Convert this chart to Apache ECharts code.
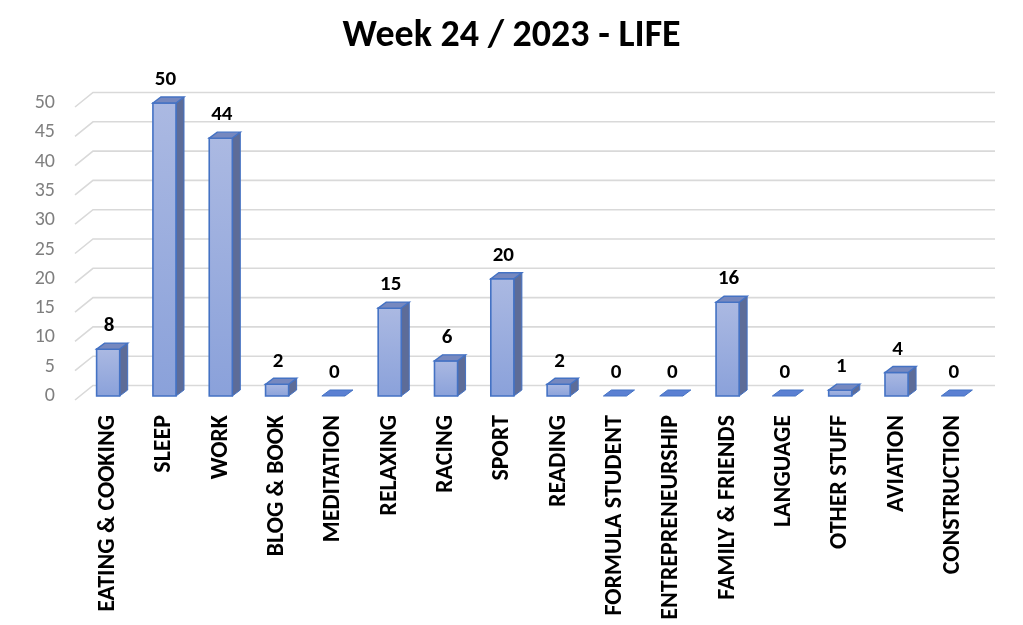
<!DOCTYPE html>
<html>
<head>
<meta charset="utf-8">
<script src="https://cdn.jsdelivr.net/npm/echarts@6/dist/echarts.min.js"></script>
<style>html,body{margin:0;padding:0;background:#fff}#c{width:1023px;height:625px}</style>
</head>
<body>
<div id="c"></div>
<script>
const categories = ['EATING & COOKING','SLEEP','WORK','BLOG & BOOK','MEDITATION','RELAXING','RACING','SPORT','READING','FORMULA STUDENT','ENTREPRENEURSHIP','FAMILY & FRIENDS','LANGUAGE','OTHER STUFF','AVIATION','CONSTRUCTION'];
const hours = [8,50,44,2,0,15,6,20,2,0,0,16,0,1,4,0];
const yTicks = [0,5,10,15,20,25,30,35,40,45,50];
const titleText = 'Week 24 / 2023 - LIFE';

const FONT = 'Carlito, Lato, sans-serif';
const DX = 8, DY = -6;

const chart = echarts.init(document.getElementById('c'), null, {renderer:'canvas'});

function gridItem(params, api){
  const v = api.value(1);
  const cs = params.coordSys;
  const y = api.coord([0, v])[1];
  return {
    type:'polyline',
    shape:{points:[[cs.x-5, y+4],[cs.x+13, y-10.5],[cs.x+cs.width+14, y-10.5]]},
    style:{stroke:'#d9d9d9', lineWidth:1.6, fill:null},
    silent:true
  };
}

function barItem(params, api){
  const i = api.value(0), v = api.value(1);
  const p0 = api.coord([i, 0]);
  const p1 = api.coord([i, v]);
  const bw = api.size([1,0])[0];
  const w = bw*0.41;
  const xl = p0[0]-w/2, xr = p0[0]+w/2;
  const yb = p0[1], yt = p1[1];
  const children = [];
  const border = '#4472c4';
  if (v > 0) {
    children.push({type:'polygon', shape:{points:[[xr,yt],[xr+DX,yt+DY],[xr+DX,yb+DY],[xr,yb]]},
      style:{fill:'#5d6c98', stroke:border, lineWidth:1}});
    children.push({type:'rect', shape:{x:xl,y:yt,width:w,height:yb-yt},
      style:{fill:new echarts.graphic.LinearGradient(0,0,0,1,[{offset:0,color:'#abb9e2'},{offset:1,color:'#8aa1da'}]), stroke:border, lineWidth:1.6}});
    children.push({type:'polygon', shape:{points:[[xl,yt],[xl+DX,yt+DY],[xr+DX,yt+DY],[xr,yt]]},
      style:{fill:'#7688bf', stroke:border, lineWidth:1.4}});
  } else {
    children.push({type:'polygon', shape:{points:[[xl,yt],[xl+DX,yt+DY],[xr+DX,yt+DY],[xr,yt]]},
      style:{fill:'#5b80d2', stroke:border, lineWidth:1}});
  }
  children.push({type:'text', style:{text:String(v), x:p0[0]+1, y:yt-23, align:'center', verticalAlign:'middle',
    fill:'#000', font:'bold 21px ' + FONT}});
  return {type:'group', children};
}

chart.setOption({
  animation:false,
  title:{text:titleText, left:'center', top:12, textStyle:{fontFamily:FONT, fontWeight:'bold', fontSize:38, color:'#000'}},
  grid:{left:80, right:42, top:103, bottom:229, containLabel:false},
  xAxis:{type:'category', data:categories,
    axisLine:{show:false}, axisTick:{show:false}, splitLine:{show:false},
    axisLabel:{interval:0, rotate:90, margin:19, color:'#000', fontFamily:FONT, fontWeight:'bold', fontSize:24, padding:[0,0,9,0]}},
  yAxis:{type:'value', min:0, max:50, interval:5,
    axisLine:{show:false}, axisTick:{show:false}, splitLine:{show:false},
    axisLabel:{margin:25, color:'#7f7f7f', fontFamily:FONT, fontSize:20, padding:[9,0,0,0]}},
  series:[
    {type:'custom', renderItem:gridItem, data:yTicks.map(t=>[0,t]), z:1, silent:true},
    {type:'custom', renderItem:barItem, data:hours.map((h,i)=>[i,h]), z:2}
  ]
});
</script>
</body>
</html>
